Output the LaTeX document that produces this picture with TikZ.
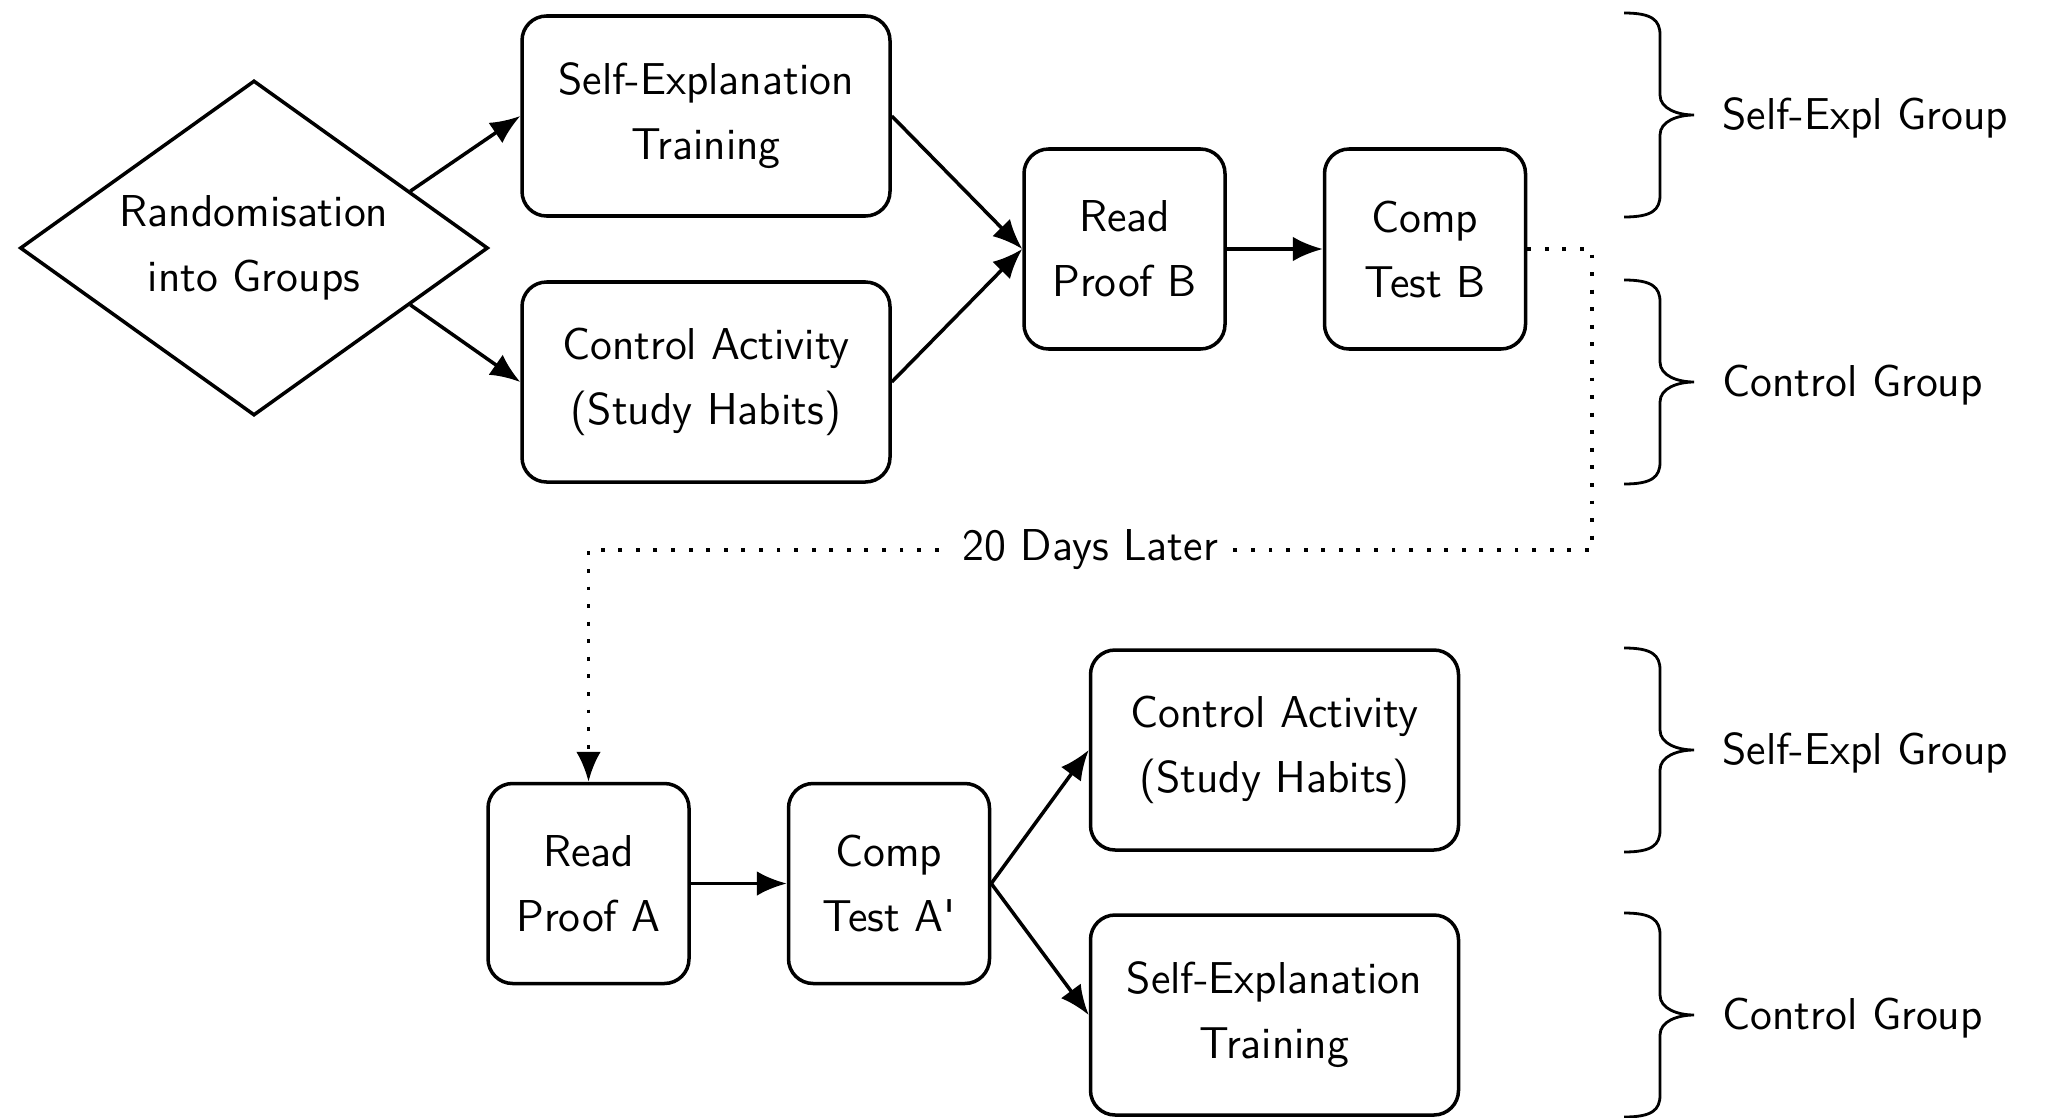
\documentclass[tikz,border=0pt]{standalone}
\usepackage{tikz}
\usetikzlibrary{arrows.meta,calc,positioning,shapes.geometric}

\begin{document}
\begin{tikzpicture}[
  font=\sffamily\fontsize{12.7}{18.5}\selectfont,
  block/.style={draw, line width=1pt, rounded corners=7pt,
    minimum width=3.68cm, minimum height=2cm, align=center, inner sep=0pt},
  smallblock/.style={block, minimum width=2.01cm},
  decision/.style={draw, line width=1pt, diamond, aspect=1.4,
    minimum width=4.68cm, minimum height=3.35cm, align=center, inner sep=0pt},
  flow/.style={-{Latex[length=8.5pt,width=7pt]}, line width=1pt},
  delay/.style={flow, line width=1.1pt, dash pattern=on 1.1pt off 3.9pt},
  grouplabel/.style={anchor=west},
  groupbrace/.pic={
    \draw[line width=.8pt] (-.36,1.02) .. controls (-.08,1.02) and (0,.95) .. (0,.8)
      -- (0,.2) .. controls (0,.06) and (.18,0) .. (.34,0)
      .. controls (.18,0) and (0,-.06) .. (0,-.2)
      -- (0,-.8) .. controls (0,-.95) and (-.08,-1.02) .. (-.36,-1.02);
  }
]
  \useasboundingbox (0,0) rectangle (20.5,-11.17);

  % first session
  \node[decision] (rand) at (2.54,-2.48) {Randomisation\\into Groups};
  \node[block] (setrain) at (7.06,-1.16) {Self-Explanation\\Training};
  \node[block] (ctrl) at (7.06,-3.82) {Control Activity\\(Study Habits)};
  \node[smallblock] (readB) at (11.245,-2.49) {Read\\Proof B};
  \node[smallblock] (compB) at (14.25,-2.49) {Comp\\Test B};

  \draw[flow] (rand.20) -- (setrain.west);
  \draw[flow] (rand.-20) -- (ctrl.west);
  \draw[flow] (setrain.east) -- (readB.west);
  \draw[flow] (ctrl.east) -- (readB.west);
  \draw[flow] (readB) -- (compB);

  % second session, groups swapped
  \node[smallblock] (readA) at (5.885,-8.835) {Read\\Proof A};
  \node[smallblock] (compA) at (8.89,-8.835) {Comp\\Test A\textquotesingle};
  \node[block] (ctrlA) at (12.745,-7.5) {Control Activity\\(Study Habits)};
  \node[block] (setrainA) at (12.745,-10.15) {Self-Explanation\\Training};

  \draw[flow] (readA) -- (compA);
  \draw[flow] (compA.east) -- (ctrlA.west);
  \draw[flow] (compA.east) -- (setrainA.west);

  \coordinate (turn) at (15.92,-5.5);
  \draw[delay] (compB.east) -| (turn) -| node[pos=.25, fill=white, inner sep=4pt] (later) {20 Days Later} (readA.north);

  \foreach \y/\grp [count=\i] in {-1.15/Self-Expl Group, -3.82/Control Group,
      -7.5/Self-Expl Group, -10.15/Control Group} {
    \pic at (16.6,\y) {groupbrace};
    \node[grouplabel] (group\i) at (17.1,\y-.03) {\grp};
  }
\end{tikzpicture}
\end{document}
